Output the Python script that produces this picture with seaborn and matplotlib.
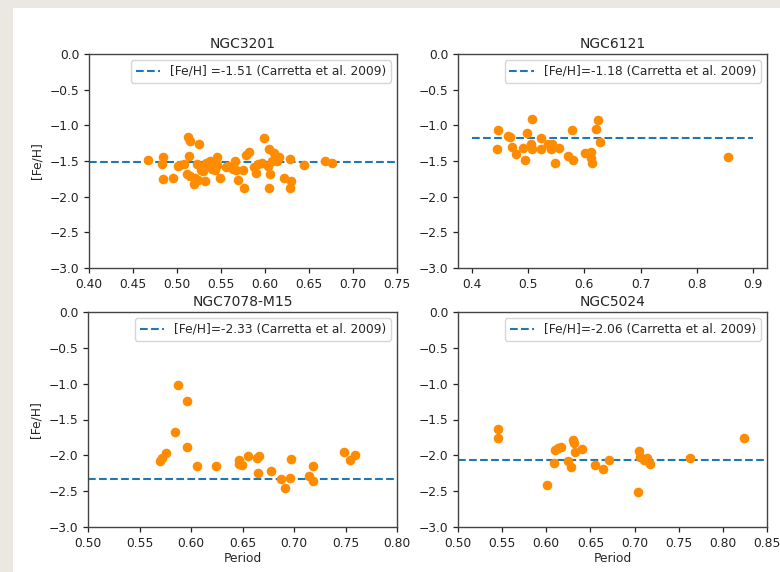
import numpy as np
import pandas as pd
import seaborn as sns
import matplotlib.pyplot as plt
from matplotlib.patches import Rectangle

sns.set_style("ticks")
plt.rcParams['font.family'] = ['DejaVu Sans']
plt.rcParams['font.size'] = 8.8

# NGC3201
p_3201 = [0.4675, 0.4838, 0.4827, 0.4842, 0.4952, 0.5009, 0.5035, 0.5085, 0.5130, 0.5153,
          0.5251, 0.5141, 0.5119, 0.5149, 0.5198, 0.5206, 0.5225, 0.5244, 0.5274, 0.5301,
          0.5320, 0.5331, 0.5358, 0.5377, 0.5396, 0.5414, 0.5433, 0.5449, 0.5453, 0.5483,
          0.5555, 0.5585, 0.5642, 0.5661, 0.5669, 0.5695, 0.5748, 0.5760, 0.5782, 0.5813,
          0.5870, 0.5900, 0.5926, 0.5964, 0.5983, 0.6029, 0.6040, 0.6048, 0.6059, 0.6078,
          0.6105, 0.6135, 0.6154, 0.6218, 0.6287, 0.6294, 0.6279, 0.6438, 0.6685, 0.6761]
f_3201 = [-1.49, -1.45, -1.545, -1.755, -1.745, -1.577, -1.554, -1.54, -1.167, -1.213,
          -1.26, -1.428, -1.685, -1.708, -1.825, -1.741, -1.545, -1.764, -1.624, -1.647,
          -1.778, -1.531, -1.577, -1.507, -1.615, -1.554, -1.633, -1.437, -1.554, -1.745,
          -1.587, -1.577, -1.615, -1.493, -1.633, -1.764, -1.633, -1.88, -1.419, -1.367,
          -1.587, -1.671, -1.545, -1.531, -1.171, -1.568, -1.88, -1.33, -1.68, -1.507,
          -1.391, -1.493, -1.447, -1.736, -1.465, -1.787, -1.885, -1.554, -1.498, -1.531]

# NGC6121
p_6121 = [0.4463, 0.4445, 0.4641, 0.4682, 0.4718, 0.4789, 0.4907, 0.4937, 0.4985, 0.5068,
          0.5044, 0.5074, 0.5222, 0.5222, 0.5352, 0.5429, 0.5400, 0.5471, 0.5548, 0.5708,
          0.5779, 0.5797, 0.6017, 0.6123, 0.6111, 0.6141, 0.6212, 0.6242, 0.6272, 0.8555]
f_6121 = [-1.065, -1.332, -1.145, -1.168, -1.308, -1.407, -1.313, -1.481, -1.103, -0.911,
          -1.266, -1.332, -1.173, -1.332, -1.266, -1.266, -1.332, -1.533, -1.313, -1.43,
          -1.065, -1.481, -1.393, -1.369, -1.463, -1.533, -1.051, -0.925, -1.229, -1.439]

# NGC7078-M15
p_7078 = [0.5697, 0.5720, 0.5753, 0.5840, 0.5869, 0.5957, 0.5963, 0.6054, 0.6242, 0.6463,
          0.6469, 0.6495, 0.6554, 0.6638, 0.6661, 0.6651, 0.6777, 0.6875, 0.6917, 0.6966,
          0.6969, 0.7150, 0.7183, 0.7189, 0.7488, 0.7540, 0.7595]
f_7078 = [-2.077, -2.044, -1.965, -1.675, -1.022, -1.241, -1.89, -2.147, -2.142, -2.123,
          -2.067, -2.128, -2.007, -2.035, -2.007, -2.24, -2.221, -2.324, -2.45, -2.31,
          -2.058, -2.287, -2.147, -2.361, -1.951, -2.072, -1.993]

# NGC5024
p_5024 = [0.5458, 0.5454, 0.6006, 0.6082, 0.6101, 0.6128, 0.6162, 0.6249, 0.6275, 0.6302,
          0.6309, 0.6328, 0.6400, 0.6551, 0.6642, 0.6714, 0.7039, 0.7054, 0.7066, 0.7107,
          0.7142, 0.7176, 0.7633, 0.8235]
f_5024 = [-1.629, -1.755, -2.417, -2.105, -1.932, -1.895, -1.885, -2.081, -2.161, -1.783,
          -1.825, -1.951, -1.918, -2.128, -2.189, -2.072, -2.506, -1.941, -2.021, -2.067,
          -2.044, -2.114, -2.035, -1.764]

names = ["NGC3201", "NGC6121", "NGC7078-M15", "NGC5024"]
periods = [p_3201, p_6121, p_7078, p_5024]
fehs = [f_3201, f_6121, f_7078, f_5024]
carretta = [-1.51, -1.18, -2.33, -2.06]
labels = ["[Fe/H] =-1.51 (Carretta et al. 2009)", "[Fe/H]=-1.18 (Carretta et al. 2009)",
          "[Fe/H]=-2.33 (Carretta et al. 2009)", "[Fe/H]=-2.06 (Carretta et al. 2009)"]
xlims = [(0.40, 0.75), (0.375, 0.925), (0.50, 0.80), (0.50, 0.85)]
xticks = [np.arange(0.40, 0.751, 0.05), np.arange(0.4, 0.91, 0.1),
          np.arange(0.50, 0.801, 0.05), np.arange(0.50, 0.851, 0.05)]
tickfmt = ["%.2f", "%.1f", "%.2f", "%.2f"]
line_span = [None, (0.4, 0.9), None, None]

W, H = 780, 572
fig = plt.figure(figsize=(W / 100, H / 100), dpi=100)
fig.patch.set_facecolor('#ebe8e2')
fig.patches.append(Rectangle((13 / W, 0), 1 - 13 / W, 1 - 8 / H, transform=fig.transFigure,
                             facecolor='white', edgecolor='none', zorder=-10))

# pixel boxes: left, right, top, bottom
boxes = [(89, 397, 54, 268), (458, 767, 54, 268), (88, 397, 312, 527), (458, 767, 312, 527)]

for i in range(4):
    l, r, t, b = boxes[i]
    ax = fig.add_axes([l / W, 1 - b / H, (r - l) / W, (b - t) / H])
    df = pd.DataFrame({"Period": periods[i], "FeH": fehs[i]})
    if line_span[i] is None:
        ax.axhline(carretta[i], ls='--', color='tab:blue', lw=1.5, label=labels[i], zorder=1)
    else:
        ax.hlines(carretta[i], line_span[i][0], line_span[i][1], ls='--', color='tab:blue',
                  lw=1.5, label=labels[i], zorder=1)
    sns.scatterplot(data=df, x="Period", y="FeH", ax=ax, color='darkorange', s=48,
                    linewidth=0, zorder=2)
    ax.set_xlim(*xlims[i])
    ax.set_ylim(-3.0, 0.0)
    ax.set_xticks(xticks[i])
    ax.set_xticklabels([tickfmt[i] % v for v in xticks[i]])
    ax.set_yticks(np.arange(-3.0, 0.01, 0.5))
    ax.set_yticklabels([("%.1f" % v).replace('-', '\u2212') for v in np.arange(-3.0, 0.01, 0.5)])
    ax.tick_params(labelsize=8.8, length=3.5, width=0.9, colors='#222222')
    for sp in ax.spines.values():
        sp.set_color('#444444')
        sp.set_linewidth(1.0)
    ax.set_title(names[i], fontsize=10, pad=4)
    ax.set_ylabel("[Fe/H]" if i in (0, 2) else "", fontsize=8.8)
    ax.set_xlabel("Period" if i in (2, 3) else "", fontsize=8.8, labelpad=2)
    ax.legend(loc='upper right', fontsize=8.8, frameon=True, borderaxespad=0.5,
              handlelength=2.0, fancybox=True, framealpha=0.8, edgecolor='#cccccc')

fig.savefig("out.png", dpi=100, facecolor=fig.get_facecolor())
